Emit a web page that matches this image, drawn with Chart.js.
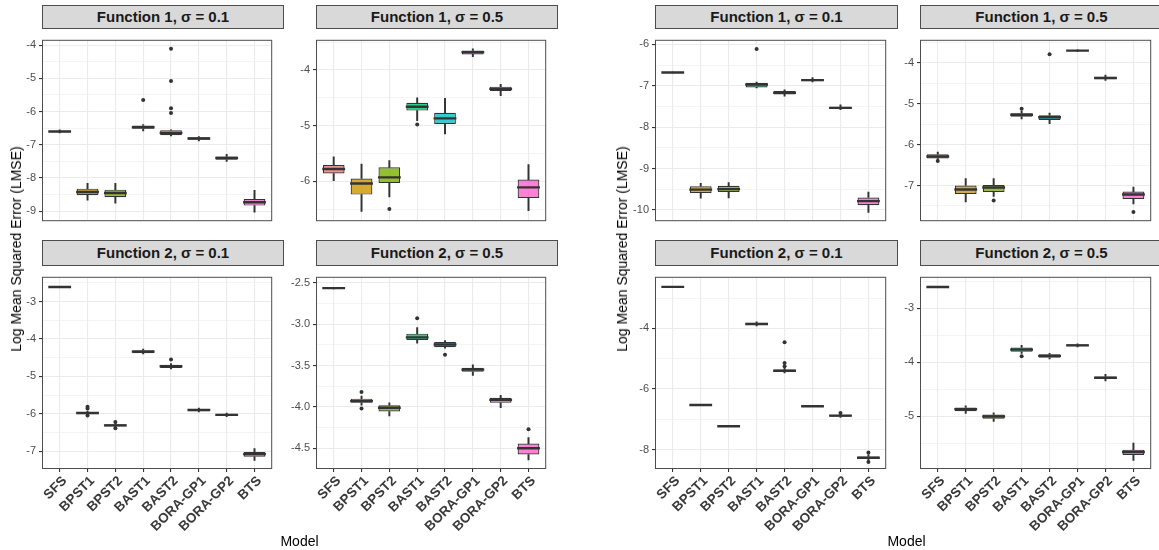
<!DOCTYPE html>
<html>
<head>
<meta charset="utf-8">
<script src="https://cdn.jsdelivr.net/npm/chart.js@4.4.1/dist/chart.umd.min.js"></script>
<style>
  body { margin: 0; background: #fff; width: 1159px; height: 550px; overflow: hidden; position: relative;
         font-family: "Liberation Sans", Arial, sans-serif; }
  .strip { position: absolute; box-sizing: border-box; background: #d9d9d9; border: 1px solid #4d4d4d;
           color: #1a1a1a; font-weight: bold; font-size: 15px; text-align: center; white-space: nowrap; }
  canvas { position: absolute; }
  .title { position: absolute; font-size: 14px; color: #000; white-space: nowrap; }
</style>
</head>
<body>
<script>
const MODELS = ['SFS', 'BPST1', 'BPST2', 'BAST1', 'BAST2', 'BORA-GP1', 'BORA-GP2', 'BTS'];
const PANEL_TITLES = ['Function 1, σ = 0.1', 'Function 1, σ = 0.5', 'Function 2, σ = 0.1', 'Function 2, σ = 0.5'];
const FILLS = ['#F8766D', '#CD9600', '#7CAE00', '#00BE67', '#00BFC4', '#00A9FF', '#C77CFF', '#FF61CC'];

// one row per model: [lower whisker, Q1, median, Q3, upper whisker]
// left figure
const L_F1_S01 = [
  [-6.64, -6.62, -6.60, -6.58, -6.55],
  [-8.67, -8.52, -8.42, -8.32, -8.16],
  [-8.76, -8.58, -8.45, -8.35, -8.16],
  [-6.58, -6.52, -6.47, -6.42, -6.39],
  [-6.73, -6.71, -6.64, -6.56, -6.55],
  [-6.88, -6.85, -6.81, -6.77, -6.75],
  [-7.50, -7.45, -7.40, -7.35, -7.29],
  [-9.03, -8.83, -8.73, -8.63, -8.37]
];
const L_F1_S01_OUT = [['BAST1', -5.65], ['BAST2', -4.11], ['BAST2', -5.08], ['BAST2', -5.90], ['BAST2', -6.04]];
const L_F1_S01_TICKS = [-9, -8, -7, -6, -5, -4];

const L_F1_S05 = [
  [-5.99, -5.86, -5.78, -5.71, -5.56],
  [-6.54, -6.24, -6.04, -5.95, -5.69],
  [-6.28, -6.03, -5.93, -5.75, -5.63],
  [-4.91, -4.73, -4.66, -4.59, -4.50],
  [-5.15, -4.97, -4.87, -4.77, -4.51],
  [-3.76, -3.72, -3.68, -3.65, -3.62],
  [-4.46, -4.38, -4.34, -4.30, -4.26],
  [-6.53, -6.30, -6.11, -5.97, -5.70]
];
const L_F1_S05_OUT = [['BPST2', -6.50], ['BAST1', -4.98]];
const L_F1_S05_TICKS = [-6, -5, -4];

const L_F2_S01 = [
  [-2.62, -2.615, -2.61, -2.605, -2.60],
  [-6.03, -6.01, -5.98, -5.96, -5.93],
  [-6.36, -6.34, -6.31, -6.28, -6.25],
  [-4.40, -4.38, -4.34, -4.30, -4.27],
  [-4.80, -4.78, -4.73, -4.69, -4.66],
  [-5.95, -5.93, -5.90, -5.87, -5.85],
  [-6.08, -6.06, -6.03, -6.00, -5.98],
  [-7.25, -7.15, -7.08, -7.02, -6.93]
];
const L_F2_S01_OUT = [['BPST1', -5.81], ['BPST1', -5.86], ['BPST1', -6.05], ['BPST2', -6.22], ['BPST2', -6.39], ['BAST2', -4.55]];
const L_F2_S01_TICKS = [-7, -6, -5, -4, -3];

const L_F2_S05 = [
  [-2.575, -2.570, -2.565, -2.560, -2.555],
  [-3.98, -3.95, -3.93, -3.90, -3.87],
  [-4.11, -4.055, -4.01, -3.98, -3.95],
  [-3.23, -3.19, -3.16, -3.115, -3.04],
  [-3.29, -3.28, -3.245, -3.217, -3.20],
  [-3.62, -3.575, -3.55, -3.526, -3.49],
  [-4.01, -3.95, -3.915, -3.89, -3.86],
  [-4.64, -4.575, -4.50, -4.443, -4.37]
];
const L_F2_S05_OUT = [['BPST1', -3.82], ['BPST1', -4.02], ['BAST1', -2.93], ['BAST2', -3.37], ['BTS', -4.27]];
const L_F2_S05_TICKS = [-4.5, -4.0, -3.5, -3.0, -2.5];

// right figure
const R_F1_S01 = [
  [-6.69, -6.685, -6.68, -6.675, -6.67],
  [-9.72, -9.59, -9.51, -9.43, -9.36],
  [-9.71, -9.57, -9.50, -9.42, -9.34],
  [-7.05, -7.04, -6.97, -6.93, -6.91],
  [-7.25, -7.21, -7.17, -7.13, -7.10],
  [-6.91, -6.89, -6.865, -6.84, -6.80],
  [-7.58, -7.56, -7.535, -7.51, -7.46],
  [-10.06, -9.89, -9.79, -9.70, -9.57]
];
const R_F1_S01_OUT = [['BAST1', -6.11]];
const R_F1_S01_TICKS = [-10, -9, -8, -7, -6];

const R_F1_S05 = [
  [-6.37, -6.34, -6.29, -6.235, -6.185],
  [-7.40, -7.21, -7.10, -7.00, -6.83],
  [-7.27, -7.16, -7.05, -6.99, -6.83],
  [-5.37, -5.32, -5.27, -5.23, -5.18],
  [-5.49, -5.40, -5.33, -5.28, -5.23],
  [-3.72, -3.71, -3.70, -3.69, -3.68],
  [-4.43, -4.40, -4.37, -4.34, -4.30],
  [-7.45, -7.33, -7.22, -7.15, -7.04]
];
const R_F1_S05_OUT = [['SFS', -6.40], ['BPST2', -7.37], ['BAST1', -5.125], ['BAST2', -3.79], ['BTS', -7.65]];
const R_F1_S05_TICKS = [-7, -6, -5, -4];

const R_F2_S01 = [
  [-2.64, -2.635, -2.63, -2.625, -2.62],
  [-6.54, -6.535, -6.53, -6.525, -6.52],
  [-7.24, -7.235, -7.23, -7.225, -7.22],
  [-3.92, -3.89, -3.855, -3.815, -3.78],
  [-5.47, -5.44, -5.40, -5.36, -5.30],
  [-6.58, -6.575, -6.57, -6.565, -6.56],
  [-6.94, -6.92, -6.88, -6.85, -6.82],
  [-8.37, -8.31, -8.27, -8.23, -8.17]
];
const R_F2_S01_OUT = [['BAST2', -4.46], ['BAST2', -5.14], ['BAST2', -5.25], ['BORA-GP2', -6.79], ['BTS', -8.10], ['BTS', -8.41]];
const R_F2_S01_TICKS = [-8, -6, -4];

const R_F2_S05 = [
  [-2.62, -2.615, -2.61, -2.605, -2.60],
  [-4.95, -4.91, -4.87, -4.84, -4.81],
  [-5.10, -5.05, -5.006, -4.97, -4.94],
  [-3.84, -3.81, -3.77, -3.73, -3.69],
  [-3.94, -3.92, -3.885, -3.855, -3.84],
  [-3.72, -3.705, -3.69, -3.67, -3.66],
  [-4.35, -4.306, -4.29, -4.266, -4.225],
  [-5.82, -5.72, -5.665, -5.62, -5.50]
];
const R_F2_S05_OUT = [['BAST1', -3.89]];
const R_F2_S05_TICKS = [-5, -4, -3];

// layout of the two rows of facets (plot area top/height, strip top)
const ROWS = [
  { stripY: 5, plotY: 29, h: 203 },
  { stripY: 240, plotY: 266, h: 202 }
];

const panels = [
  { title: PANEL_TITLES[0], box: L_F1_S01, out: L_F1_S01_OUT, ticks: L_F1_S01_TICKS, min: -9.27, max: -3.87, x: 43, w: 240, row: 0, dec: 0 },
  { title: PANEL_TITLES[1], box: L_F1_S05, out: L_F1_S05_OUT, ticks: L_F1_S05_TICKS, min: -6.70, max: -3.476, x: 317, w: 240, row: 0, dec: 0 },
  { title: PANEL_TITLES[2], box: L_F2_S01, out: L_F2_S01_OUT, ticks: L_F2_S01_TICKS, min: -7.45, max: -2.366, x: 43, w: 240, row: 1, dec: 0 },
  { title: PANEL_TITLES[3], box: L_F2_S05, out: L_F2_S05_OUT, ticks: L_F2_S05_TICKS, min: -4.738, max: -2.44, x: 317, w: 240, row: 1, dec: 1 },
  { title: PANEL_TITLES[0], box: R_F1_S01, out: R_F1_S01_OUT, ticks: R_F1_S01_TICKS, min: -10.25, max: -5.914, x: 656, w: 241, row: 0, dec: 0 },
  { title: PANEL_TITLES[1], box: R_F1_S05, out: R_F1_S05_OUT, ticks: R_F1_S05_TICKS, min: -7.85, max: -3.459, x: 921, w: 241, row: 0, dec: 0 },
  { title: PANEL_TITLES[2], box: R_F2_S01, out: R_F2_S01_OUT, ticks: R_F2_S01_TICKS, min: -8.61, max: -2.33, x: 656, w: 241, row: 1, dec: 0 },
  { title: PANEL_TITLES[3], box: R_F2_S05, out: R_F2_S05_OUT, ticks: R_F2_S05_TICKS, min: -5.96, max: -2.44, x: 921, w: 241, row: 1, dec: 0 }
];

// panel border on top of everything (theme_bw style)
const frame = {
  id: 'frame',
  afterDraw(chart) {
    const { ctx, chartArea: a } = chart;
    ctx.save();
    ctx.strokeStyle = '#4d4d4d';
    ctx.lineWidth = 1;
    ctx.strokeRect(a.left - 0.5, a.top - 0.5, a.right - a.left + 1, a.bottom - a.top + 1);
    ctx.restore();
  }
};

const YW = 40, PAD = 2, XH = 90;

function addText(cls, text, css) {
  const d = document.createElement('div');
  d.className = cls;
  d.textContent = text;
  Object.assign(d.style, css);
  document.body.appendChild(d);
  return d;
}

function addPanel(p) {
  const row = ROWS[p.row];
  const bottom = p.row === 1;
  const sh = row.plotY - row.stripY;
  addText('strip', p.title, {
    left: (p.x - 1) + 'px', top: row.stripY + 'px', width: (p.w + 2) + 'px',
    height: sh + 'px', lineHeight: (sh - 2) + 'px'
  });

  const cv = document.createElement('canvas');
  const cw = YW + p.w + PAD;
  const ch = PAD + row.h + (bottom ? XH : PAD);
  cv.width = cw; cv.height = ch;
  cv.style.left = (p.x - YW) + 'px';
  cv.style.top = (row.plotY - PAD) + 'px';
  cv.style.width = cw + 'px';
  cv.style.height = ch + 'px';
  document.body.appendChild(cv);

  // major ticks carry labels, minor grid lines sit half way between them
  const step = p.ticks[1] - p.ticks[0];
  const all = [];
  for (let v = p.ticks[0] - step / 2; v <= p.max + 1e-9; v += step / 2) {
    if (v >= p.min - 1e-9) all.push(+v.toFixed(4));
  }
  const isMajor = v => p.ticks.some(t => Math.abs(t - v) < 1e-6);

  const idx = name => MODELS.indexOf(name) + 1;

  new Chart(cv, {
    type: 'bar',
    data: {
      datasets: [
        { type: 'bar', data: p.box.map((b, i) => ({ x: i + 1, y: [b[0], b[1]] })),
          backgroundColor: '#333333', barThickness: 1.3, grouped: false, order: 4 },
        { type: 'bar', data: p.box.map((b, i) => ({ x: i + 1, y: [b[3], b[4]] })),
          backgroundColor: '#333333', barThickness: 1.3, grouped: false, order: 3 },
        { type: 'bar', data: p.box.map((b, i) => ({ x: i + 1, y: [b[1], b[3]] })),
          backgroundColor: FILLS.map(c => c + 'CC'), borderColor: '#333333', borderWidth: 1.2,
          borderSkipped: false, grouped: false, categoryPercentage: 1, barPercentage: 0.78, order: 2 },
        { type: 'line', data: p.box.map((b, i) => ({ x: i + 1, y: b[2] })), showLine: false,
          pointStyle: 'line', pointRadius: 11.4, pointHoverRadius: 11.4, pointBorderWidth: 2.4,
          pointBorderColor: '#333333', order: 1 },
        { type: 'line', data: p.out.map(o => ({ x: idx(o[0]), y: o[1] })), showLine: false,
          pointRadius: 2, pointHoverRadius: 2, pointBackgroundColor: '#333333', pointBorderWidth: 0, order: 0 }
      ]
    },
    options: {
      responsive: false,
      devicePixelRatio: 1,
      animation: false,
      events: [],
      layout: { padding: { top: PAD, right: PAD, left: 0, bottom: bottom ? 0 : PAD } },
      plugins: { legend: { display: false }, tooltip: { enabled: false } },
      scales: {
        x: {
          type: 'linear', min: 0.4, max: 8.6, offset: false,
          afterBuildTicks: s => { s.ticks = MODELS.map((m, i) => ({ value: i + 1 })); },
          afterFit: s => { s.height = bottom ? XH : 0; s.paddingLeft = 0; s.paddingRight = 0; },
          border: { display: false },
          grid: { color: '#ebebeb', lineWidth: 1.1, offset: false, drawTicks: bottom,
                  tickLength: 4, tickColor: '#333333', tickWidth: 1.1 },
          ticks: {
            display: bottom, autoSkip: false, minRotation: 45, maxRotation: 45, padding: 1, labelOffset: 5,
            color: '#3a3a3a', font: { family: '"Liberation Sans", Arial, sans-serif', size: 13.5, weight: 'bold' },
            callback: v => MODELS[v - 1]
          }
        },
        y: {
          min: p.min, max: p.max,
          afterBuildTicks: s => { s.ticks = all.map(v => ({ value: v })); },
          afterFit: s => { s.width = YW; s.paddingTop = 0; s.paddingBottom = 0; },
          border: { display: false },
          grid: {
            color: '#ebebeb', tickLength: 4, tickWidth: 1.1,
            lineWidth: c => isMajor(c.tick.value) ? 1.1 : 0.55,
            tickColor: c => isMajor(c.tick.value) ? '#333333' : 'rgba(0,0,0,0)'
          },
          ticks: {
            autoSkip: false, padding: 3, color: '#4d4d4d',
            font: { family: '"Liberation Sans", Arial, sans-serif', size: 11 },
            callback: v => isMajor(v) ? v.toFixed(p.dec) : ''
          }
        }
      }
    },
    plugins: [frame]
  });
}

panels.forEach(addPanel);

// axis titles of the two figures
[{ cx: 299.5, yx: 16 }, { cx: 906.5, yx: 622 }].forEach(g => {
  addText('title', 'Model', { left: g.cx + 'px', top: '541px', transform: 'translate(-50%, -50%)' });
  addText('title', 'Log Mean Squared Error (LMSE)', {
    left: g.yx + 'px', top: '249px', transform: 'translate(-50%, -50%) rotate(-90deg)'
  });
});
</script>
</body>
</html>
